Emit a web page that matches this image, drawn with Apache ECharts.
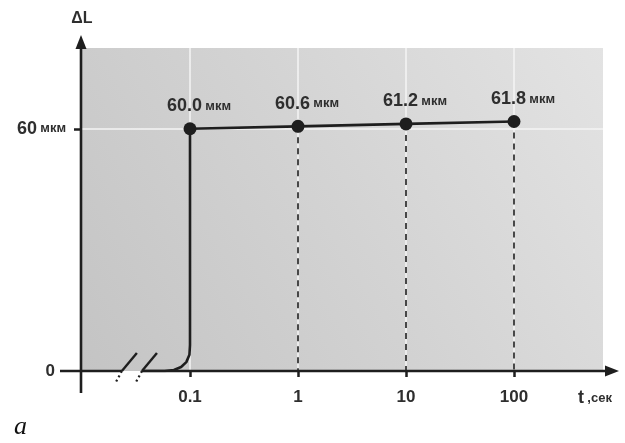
<!DOCTYPE html>
<html>
<head>
<meta charset="utf-8">
<script src="https://cdn.jsdelivr.net/npm/echarts@6/dist/echarts.min.js"></script>
<style>html,body{margin:0;padding:0;background:#fff}#c{width:625px;height:443px}</style>
</head>
<body>
<div id="c"></div>
<script>
// ---- data ----
const timeTicks = [0.1, 1, 10, 100];            // t, сек
const elongation = [60.0, 60.6, 61.2, 61.8];     // ΔL, мкм
const pointLabels = ['60.0', '60.6', '61.2', '61.8'];
const riseT = [0.0359, 0.0583, 0.0710, 0.0827, 0.0924, 0.0988, 0.1];
const riseL = [0, 0, 0.25, 1.0, 2.2, 4.0, 6.4];
const yTickLabels = [0, 60];
const breakAt = [0.0234, 0.0359];
const unit = 'мкм';

const INK = '#1e1e1e';
const TXT = '#2e2e2e';
const FONT = '"Liberation Sans", Arial, sans-serif';

const lineData = riseT.map((t, i) => [t, riseL[i]])
  .concat(timeTicks.map((t, i) => [t, elongation[i]]));
const pointData = timeTicks.map((t, i) => [t, elongation[i]]);

const richLbl = {
  n: {fontSize: 18, fontWeight: 'bold', color: TXT, fontFamily: FONT},
  u: {fontSize: 13, fontWeight: 'bold', color: TXT, fontFamily: FONT}
};

const chart = echarts.init(document.getElementById('c'), null, {renderer: 'canvas'});
chart.setOption({
  animation: false,
  grid: {
    left: 82, right: 22, top: 48, bottom: 72,
    show: true, borderWidth: 0,
    backgroundColor: new echarts.graphic.LinearGradient(0, 1, 1, 0, [
      {offset: 0, color: '#c4c4c4'},
      {offset: 0.5, color: '#d3d3d3'},
      {offset: 1, color: '#e3e3e3'}
    ])
  },
  xAxis: {
    type: 'log', logBase: 10, min: 0.01, max: 667,
    name: '{t|t} {u|,сек}',
    nameLocation: 'end', nameGap: -25,
    nameTextStyle: {
      align: 'left', verticalAlign: 'top', padding: [18, 0, 0, 0],
      rich: {
        t: {fontSize: 18, fontWeight: 'bold', color: TXT, fontFamily: FONT},
        u: {fontSize: 13, fontWeight: 'bold', color: TXT, fontFamily: FONT}
      }
    },
    axisLine: {show: false},
    axisTick: {show: true, length: 6, lineStyle: {color: INK, width: 2.5},
      customValues: timeTicks},
    axisLabel: {
      customValues: timeTicks, margin: 18,
      fontSize: 17, fontWeight: 'bold', color: TXT, fontFamily: FONT,
      formatter: v => String(v)
    },
    splitLine: {show: true, lineStyle: {color: '#f4f4f4', width: 1.5}}
  },
  yAxis: {
    type: 'value', min: 0, max: 80, interval: 20,
    name: 'ΔL', nameLocation: 'end', nameGap: 21,
    nameTextStyle: {fontSize: 16, color: TXT, fontFamily: FONT, fontWeight: 'bold', align: 'center'},
    axisLine: {show: false},
    axisTick: {show: true, length: 8, lineStyle: {color: INK, width: 2.5},
      customValues: [60]},
    axisLabel: {
      customValues: yTickLabels, margin: 16,
      formatter: v => v === 0 ? '{z|0}' : '{n|' + v + '} {u|' + unit + '}',
      rich: {
        z: {fontSize: 17, fontWeight: 'bold', color: TXT, fontFamily: FONT, padding: [0, 11, 0, 0]},
        n: richLbl.n,
        u: richLbl.u
      }
    },
    splitLine: {show: true, lineStyle: {color: '#f4f4f4', width: 1.5}}
  },
  series: [
    {
      type: 'line', data: lineData, showSymbol: false, symbol: 'none',
      lineStyle: {color: INK, width: 2.6}, z: 3,
      markLine: {
        silent: true, symbol: 'none', label: {show: false},
        lineStyle: {color: INK, width: 1.6, type: [6, 5]},
        data: timeTicks.slice(1).map((t, i) => [
          {coord: [t, elongation[i + 1]]}, {coord: [t, 0]}
        ])
      }
    },
    {
      type: 'scatter', data: pointData, symbol: 'circle', symbolSize: 13,
      itemStyle: {color: INK, opacity: 1}, z: 4,
      label: {
        show: true, position: 'top', distance: 7, offset: [9, 0],
        formatter: p => '{n|' + pointLabels[p.dataIndex] + '} {u|' + unit + '}',
        rich: richLbl
      }
    }
  ]
});

// ---- axis lines with arrows, break marks ----
const o = chart.convertToPixel({gridIndex: 0}, [0.01, 0]);
const x0 = o[0], y0 = o[1];
const b1 = chart.convertToPixel({gridIndex: 0}, [breakAt[0], 0])[0];
const b2 = chart.convertToPixel({gridIndex: 0}, [breakAt[1], 0])[0];
const ls = {stroke: INK, lineWidth: 2.6};
const g = [];
g.push({type: 'line', shape: {x1: 60, y1: y0, x2: b1, y2: y0}, style: ls, z: 10});
g.push({type: 'line', shape: {x1: b2, y1: y0, x2: 608, y2: y0}, style: ls, z: 10});
g.push({type: 'polygon', shape: {points: [[619, y0], [605, y0 - 5.5], [605, y0 + 5.5]]}, style: {fill: INK}, z: 10});
g.push({type: 'line', shape: {x1: x0 - 1, y1: 393, x2: x0 - 1, y2: 44}, style: ls, z: 10});
g.push({type: 'polygon', shape: {points: [[x0 - 1, 35], [x0 - 6.5, 49], [x0 + 4.5, 49]]}, style: {fill: INK}, z: 10});
[b1, b2].forEach(bx => {
  g.push({type: 'line', shape: {x1: bx, y1: y0, x2: bx + 15, y2: y0 - 18}, style: {stroke: INK, lineWidth: 2.4}, z: 10});
  g.push({type: 'line', shape: {x1: bx, y1: y0, x2: bx - 7, y2: y0 + 13}, style: {stroke: INK, lineWidth: 2.2, lineDash: [2, 3]}, z: 10});
});
g.push({type: 'text', left: 14, top: 414, style: {text: 'a', font: 'italic 26px "Liberation Serif", "DejaVu Serif", serif', fill: '#111'}});
chart.setOption({graphic: g});
</script>
</body>
</html>
